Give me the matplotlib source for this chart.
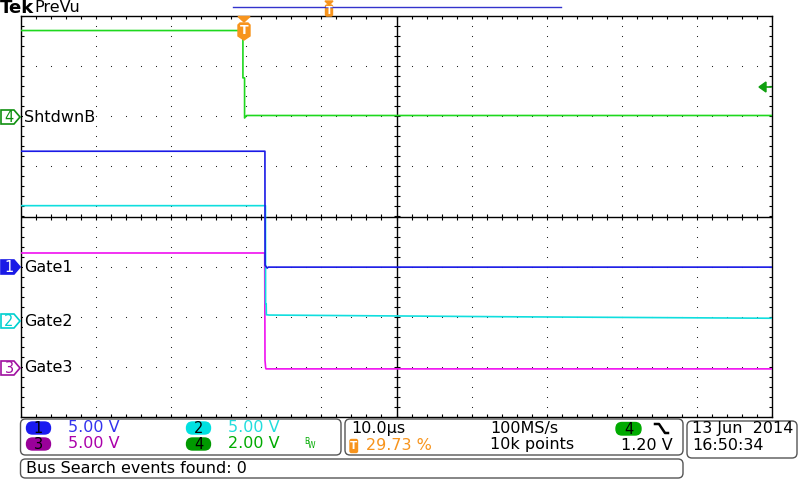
import numpy as np
import matplotlib.pyplot as plt
from matplotlib.patches import FancyBboxPatch, Polygon

# scope settings
time_per_div = 10.0      # us / div
trigger_pct = 29.73      # trigger position in % of the record
t_left = -trigger_pct / 100 * 10 * time_per_div
t_right = t_left + 10 * time_per_div

# V/div and ground marker position (div from screen centre)
ch_scale = {1: 5.0, 2: 5.0, 3: 5.0, 4: 2.0}
ch_offset = {1: -1.01, 2: -2.09, 3: -3.04, 4: 1.99}
ch_label = {1: "Gate1", 2: "Gate2", 3: "Gate3", 4: "ShtdwnB"}

# traces: time in us relative to trigger, level in V
ch4_t = [t_left, -0.18, -0.18, 0.04, 0.04, 0.3, t_right]
ch4_v = [3.44, 3.44, 1.55, 1.55, -0.05, 0.05, 0.05]
ch1_t = [t_left, 2.75, 2.77, 3.05, 3.2, t_right]
ch1_v = [11.56, 11.56, 0.2, -0.1, 0.0, 0.0]
ch2_t = [t_left, 2.82, 2.84, 2.92, 2.94, 3.3, 35.0, t_right]
ch2_v = [11.53, 11.53, 1.73, 1.73, 0.65, 0.62, 0.45, 0.3]
ch3_t = [t_left, 2.72, 2.76, 2.85, 2.9, t_right]
ch3_v = [11.56, 11.56, 0.85, 0.1, 0.0, 0.0]

trace_col = {1: "#1a1ae6", 2: "#10dede", 3: "#f010f0", 4: "#1ed81e"}
orange = "#f7941d"

fig = plt.figure(figsize=(8, 4.8), dpi=100)
fig.patch.set_facecolor("white")

# graticule axes, pixel box 21..772 x 16..417
ax = fig.add_axes([21 / 800, (480 - 417) / 480, 751 / 800, 401 / 480])
ax.set_xlim(t_left, t_right)
ax.set_ylim(-4, 4)
ax.set_xticks([])
ax.set_yticks([])
for s in ax.spines.values():
    s.set_color("black")
    s.set_linewidth(1.0)

grid_c = "#222222"
ys = np.arange(-4, 4.001, 0.2)
xs = t_left + np.arange(0, 10.001, 0.2) * time_per_div
for k in range(1, 10):
    if k == 5:
        continue
    x = t_left + k * time_per_div
    ax.plot([x] * len(ys), ys, ls="none", marker="s", ms=0.75, mew=0, color=grid_c)
for j in range(-3, 4):
    if j == 0:
        continue
    ax.plot(xs, [j] * len(xs), ls="none", marker="s", ms=0.75, mew=0, color=grid_c)

# centre crosshair with minor ticks
xc = t_left + 5 * time_per_div
ax.axvline(xc, color="black", lw=1.0)
ax.axhline(0, color="black", lw=1.0)
ax.plot(xs, [0] * len(xs), ls="none", marker="|", ms=5, mew=0.8, color="black")
ax.plot([xc] * len(ys), ys, ls="none", marker="_", ms=5, mew=0.8, color="black")
# ticks on the frame (outer half gets clipped)
ax.plot(xs, [4] * len(xs), ls="none", marker="|", ms=5, mew=0.8, color="black")
ax.plot(xs, [-4] * len(xs), ls="none", marker="|", ms=5, mew=0.8, color="black")
ax.plot([t_left] * len(ys), ys, ls="none", marker="_", ms=5, mew=0.8, color="black")
ax.plot([t_right] * len(ys), ys, ls="none", marker="_", ms=5, mew=0.8, color="black")

traces = {4: (ch4_t, ch4_v), 3: (ch3_t, ch3_v), 2: (ch2_t, ch2_v), 1: (ch1_t, ch1_v)}
for ch, (t, v) in traces.items():
    y = ch_offset[ch] + np.array(v) / ch_scale[ch]
    ax.plot(t, y, color=trace_col[ch], lw=1.2, zorder=5)

# overlay in pixel coordinates for all the screen furniture
ov = fig.add_axes([0, 0, 1, 1])
ov.set_xlim(0, 800)
ov.set_ylim(480, 0)
ov.axis("off")
ov.patch.set_alpha(0)

fnt = "DejaVu Sans"
ov.text(0, 8, "Tek", fontsize=13, fontweight="bold", va="center", family=fnt)
ov.text(34, 7, "PreVu", fontsize=11.5, va="center", family=fnt)

# record view bar at the top
ov.plot([233, 561], [7, 7], color="#3333cc", lw=1.0)
ov.add_patch(Polygon([(325, 1), (333, 1), (329, 5)], closed=True, color=orange))
ov.add_patch(FancyBboxPatch((325.5, 5), 7, 11, boxstyle="round,pad=0,rounding_size=1.5", color=orange))
ov.text(329, 11, "T", color="white", fontsize=7, ha="center", va="center", fontweight="bold")

# trigger position marker
ov.add_patch(Polygon([(238, 16.5), (250, 16.5), (244, 22)], closed=True, color=orange))
ov.add_patch(Polygon([(238, 25), (240, 23), (248, 23), (250, 25), (250, 36), (244, 40), (238, 36)],
                     closed=True, color=orange))
ov.text(244, 31, "T", color="white", fontsize=9, ha="center", va="center", fontweight="bold")

# trigger level arrow on the right
ov.add_patch(Polygon([(759, 87), (766, 82), (766, 92)], closed=True, color="#10a010"))
ov.plot([765, 771], [87, 87], color="#10a010", lw=1.2)

# channel ground markers and labels
marker_y = {4: 117, 1: 267, 2: 321, 3: 368}
marker_edge = {4: "#109010", 1: "#1a1ae6", 2: "#00d0d0", 3: "#a010a0"}
for ch, my in marker_y.items():
    pts = [(1, my - 7), (14, my - 7), (20, my), (14, my + 7), (1, my + 7)]
    filled = ch == 1
    ov.add_patch(Polygon(pts, closed=True, facecolor=marker_edge[ch] if filled else "white",
                         edgecolor=marker_edge[ch], lw=1.2))
    ov.text(9, my + 0.5, str(ch), color="white" if filled else marker_edge[ch],
            fontsize=10.5, ha="center", va="center", family=fnt)
    ov.text(24, my, ch_label[ch], fontsize=11.5, va="center", family=fnt,
            bbox=dict(facecolor="white", edgecolor="none", pad=0.5))

# bottom info boxes
def box(x0, y0, x1, y1):
    ov.add_patch(FancyBboxPatch((x0, y0), x1 - x0, y1 - y0,
                                boxstyle="round,pad=0,rounding_size=5",
                                facecolor="none", edgecolor="#555555", lw=1.0))

box(20.5, 419, 341, 455)
box(345, 419, 683, 455)
box(687, 421, 797, 458)
box(20.5, 459, 683, 478)

def pill(cx, cy, col, label):
    ov.add_patch(FancyBboxPatch((cx - 12, cy - 6), 24, 12,
                                boxstyle="round,pad=0,rounding_size=6", color=col))
    ov.text(cx, cy + 0.5, label, fontsize=10.5, ha="center", va="center", family=fnt)

pill(38.5, 428, "#1a1af0", "1")
pill(38.5, 444, "#990099", "3")
pill(198.5, 428, "#00e0e0", "2")
pill(198.5, 444, "#009900", "4")
ov.text(68, 428, "5.00 V", color="#3333ee", fontsize=11.5, va="center", family=fnt)
ov.text(68, 444, "5.00 V", color="#aa00aa", fontsize=11.5, va="center", family=fnt)
ov.text(228, 428, "5.00 V", color="#22dddd", fontsize=11.5, va="center", family=fnt)
ov.text(228, 444, "2.00 V", color="#00aa00", fontsize=11.5, va="center", family=fnt)
ov.text(304, 441, "B", color="#00aa00", fontsize=5.5, va="center", family=fnt)
ov.text(308, 445, "W", color="#00aa00", fontsize=5.5, va="center", family=fnt)

ov.text(351, 428, "10.0\u00b5s", fontsize=11.5, va="center", family=fnt)
ov.add_patch(FancyBboxPatch((350, 439.5), 7.5, 13, boxstyle="round,pad=0,rounding_size=1.5", color=orange))
ov.text(353.8, 446, "T", color="white", fontsize=7.5, ha="center", va="center", fontweight="bold")
ov.text(366, 445, "29.73 %", color=orange, fontsize=11.5, va="center", family=fnt)
ov.text(490, 428, "100MS/s", fontsize=11.5, va="center", family=fnt)
ov.text(490, 445, "10k points", fontsize=11.5, va="center", family=fnt)
ov.add_patch(FancyBboxPatch((616, 422.5), 25, 12.5, boxstyle="round,pad=0,rounding_size=6", color="#00aa00"))
ov.text(628.5, 429, "4", fontsize=10.5, ha="center", va="center", family=fnt)
ov.plot([655, 659, 665, 668], [424, 424, 433, 433], color="black", lw=1.8)
ov.text(673, 445, "1.20 V", fontsize=11.5, ha="right", va="center", family=fnt)

ov.text(692, 429, "13 Jun  2014", fontsize=11.5, va="center", family=fnt)
ov.text(692, 446, "16:50:34", fontsize=11.5, va="center", family=fnt)
ov.text(26, 468.5, "Bus Search events found: 0", fontsize=11.5, va="center", family=fnt)

fig.savefig("out.png", dpi=100)
